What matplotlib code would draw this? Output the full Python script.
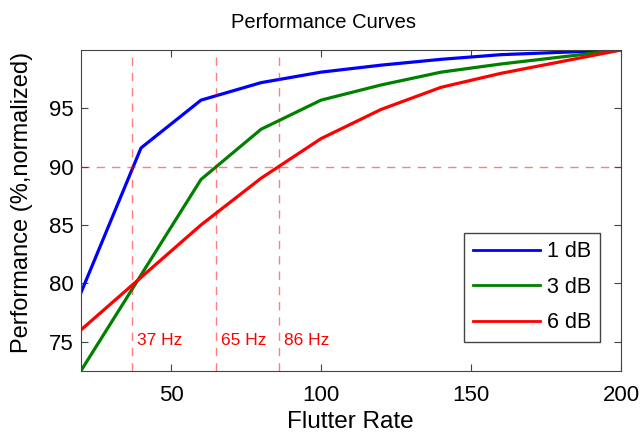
import matplotlib
matplotlib.use("Agg")
import matplotlib.pyplot as plt

plt.rcParams["font.family"] = ["Liberation Sans", "DejaVu Sans"]

# Flutter rate samples and performance curves
flutter_rate = [20, 40, 60, 80, 100, 120, 140, 160, 180, 200]
perf_1db = [79.2, 91.6, 95.7, 97.2, 98.1, 98.7, 99.2, 99.6, 99.8, 100.0]
perf_3db = [72.5, 80.7, 88.9, 93.2, 95.7, 97.0, 98.1, 98.8, 99.4, 100.0]
perf_6db = [76.0, 80.5, 85.0, 89.0, 92.4, 94.9, 96.8, 98.0, 99.0, 100.0]

series_labels = ["1 dB", "3 dB", "6 dB"]
series_colors = ["#0000ff", "#008000", "#ff0000"]

# Threshold markers
threshold_level = 90
threshold_rates = [37, 65, 86]

fig = plt.figure(figsize=(6.44, 4.34), dpi=100)
ax = fig.add_axes([0.1258, 0.1459, 0.8385, 0.7389])

for vals, label, color in zip([perf_1db, perf_3db, perf_6db], series_labels, series_colors):
    ax.plot(flutter_rate, vals, color=color, lw=2.3, label=label)

dash_style = dict(color="#ff0000", alpha=0.5, lw=1, dashes=(6, 5))
ax.axhline(threshold_level, **dash_style)
for r in threshold_rates:
    ax.axvline(r, **dash_style)
    ax.text(r + 1.8, 75.1, f"{r} Hz", color="#ff0000", fontsize=12.5,
            ha="left", va="center")

ax.set_xlim(20, 200)
ax.set_ylim(72.5, 100)
ax.set_xticks([50, 100, 150, 200])
ax.set_yticks([75, 80, 85, 90, 95])
ax.tick_params(direction="in", top=True, right=True, labelsize=16, length=5,
               color="#444444")
ax.tick_params(axis="y", pad=5)
ax.tick_params(axis="x", pad=10)
for sp in ax.spines.values():
    sp.set_color("#444444")

ax.set_xlabel("Flutter Rate", fontsize=17.5)
ax.xaxis.set_label_coords(0.499, -0.126)
ax.set_ylabel("Performance (%,normalized)", fontsize=17)
ax.yaxis.set_label_coords(-0.089, 0.5245)
fig.text(0.5016, 0.9355, "Performance Curves", fontsize=14.5,
         ha="center", va="baseline")

leg = ax.legend(loc="lower right", fontsize=15.5, fancybox=False, framealpha=1,
                edgecolor="#444444", handlelength=3.1, borderaxespad=0,
                labelspacing=0.67, handletextpad=0.35,
                bbox_to_anchor=(0.961, 0.09))
leg.get_frame().set_linewidth(1)
for line in leg.get_lines():
    line.set_linewidth(2)

fig.savefig("out.png", dpi=100)
